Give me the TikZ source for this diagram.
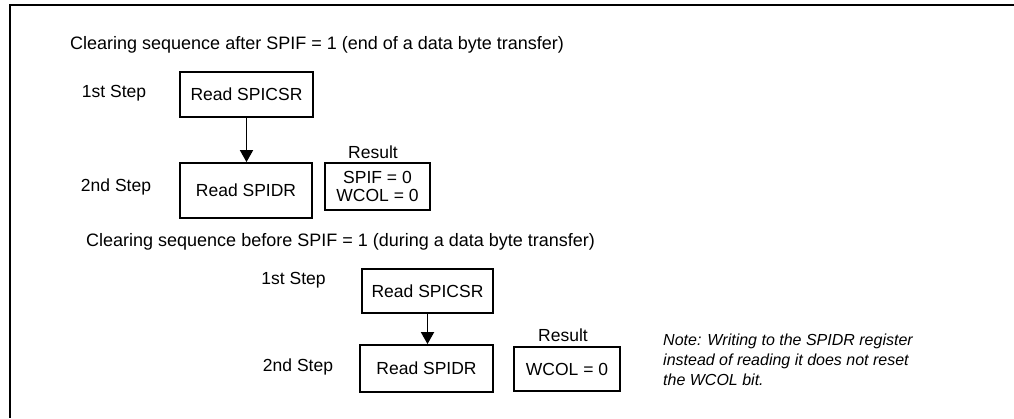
\documentclass[tikz,border=0pt]{standalone}
\usepackage{fontspec}
\setmainfont{Liberation Sans}
\usetikzlibrary{arrows.meta,positioning}
\tikzset{
  regbox/.style={draw, line width=1.8pt, inner sep=0pt, align=center,
    font=\fontsize{17.5}{18}\selectfont},
  steplabel/.style={inner sep=0pt, font=\fontsize{17.5}{20}\selectfont},
  seqtitle/.style={anchor=west, inner sep=0pt, font=\fontsize{18}{20}\selectfont},
  notetext/.style={anchor=west, inner sep=0pt, align=left,
    font=\fontsize{16}{20}\selectfont\itshape},
  flow/.style={-{Triangle[width=13pt,length=12pt]}, line width=1.8pt},
}

\begin{document}
\begin{tikzpicture}[x=1pt,y=-1pt]
    \useasboundingbox (0,0) rectangle (1014,418);

    % Frame
    \draw[line width=2pt] (1014,5) -- (10,5) -- (10,418);

    %%%%%%%%%%%%%%%%%%%%%%%%
    %%%%% After SPIF=1 %%%%%
    %%%%%%%%%%%%%%%%%%%%%%%%
    \node[seqtitle] (title1) at (70,45) {Clearing sequence after SPIF = 1 (end of a data byte transfer)};

    \node[steplabel] (first1) at (114,93) {1st Step};
    \node[steplabel] (second1) at (116,187) {2nd Step};

    \node[regbox, minimum width=133pt, minimum height=45pt] (csr1) at (246.5,94.5) {Read SPICSR};
    \node[regbox, minimum width=132pt, minimum height=55pt] (spidr1) at (246,190.5) {Read SPIDR};
    \node[regbox, minimum width=105pt, minimum height=47pt] (res1) at (377.5,186.5) {SPIF = 0\\WCOL = 0};
    \node[steplabel] (result1) at (373,152) {Result};

    % Read SPICSR then SPIDR
    \draw[flow] (csr1.south) -- (csr1.south |- spidr1.north);

    %%%%%%%%%%%%%%%%%%%%%%%%%
    %%%%% Before SPIF=1 %%%%%
    %%%%%%%%%%%%%%%%%%%%%%%%%
    \node[seqtitle] (title2) at (86,242) {Clearing sequence before SPIF = 1 (during a data byte transfer)};

    \node[steplabel] (first2) at (293.5,280) {1st Step};
    \node[steplabel] (second2) at (298,367) {2nd Step};

    \node[regbox, minimum width=131pt, minimum height=44pt] (csr2) at (427.5,291) {Read SPICSR};
    \node[regbox, minimum width=133pt, minimum height=47pt] (spidr2) at (426.5,368.5) {Read SPIDR};
    \node[regbox, minimum width=106pt, minimum height=44pt] (res2) at (567,369) {WCOL = 0};
    \node[steplabel] (result2) at (563,335) {Result};

    % Read SPICSR then SPIDR
    \draw[flow] (csr2.south) -- (csr2.south |- spidr2.north);

    \node[notetext] (note) at (663,360) {Note: Writing to the SPIDR register\\instead of reading it does not reset\\the WCOL bit.};

\end{tikzpicture}
\end{document}
